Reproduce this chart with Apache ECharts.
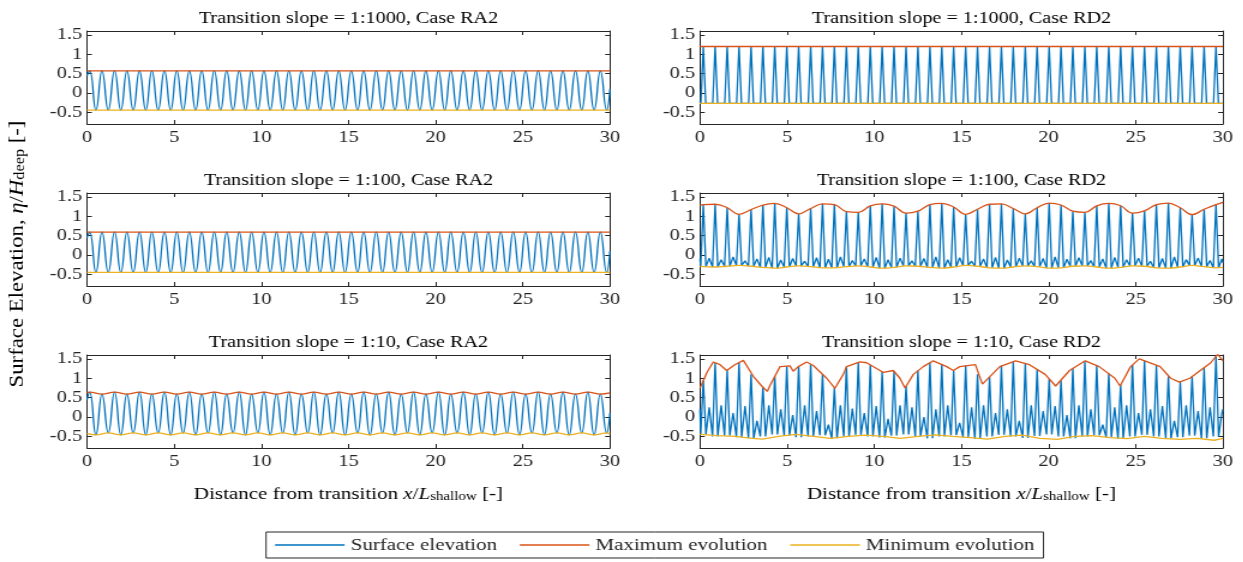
<!DOCTYPE html>
<html>
<head>
<meta charset="utf-8">
<title>Surface elevation along the transition</title>
<script src="https://cdn.jsdelivr.net/npm/echarts@6.0.0/dist/echarts.min.js"></script>
<style>
  html, body { margin: 0; padding: 0; background: #fff; overflow: hidden; }
  /* the source figure is stretched sideways, so draw narrow and stretch it */
  #chart { width: 1036px; height: 562px; transform: scaleX(1.2); transform-origin: 0 0; }
</style>
</head>
<body>
<div id="chart"></div>
<script>
// ---- data (x in x/L_shallow, y in eta/H_deep) ----
const edgeX = [0, 30]
const yTicks = [-0.5, 0, 0.5, 1, 1.5]

// RA2 cases: crest and trough positions
const raCrestX = [0.15, 0.86, 1.58, 2.29, 3.01, 3.72, 4.44, 5.15, 5.87, 6.58, 7.30, 8.01, 8.73, 9.44, 10.15, 10.87, 11.58, 12.30, 13.01, 13.73, 14.44,
  15.16, 15.87, 16.59, 17.30, 18.02, 18.73, 19.44, 20.16, 20.87, 21.59, 22.30, 23.02, 23.73, 24.45, 25.16, 25.88, 26.59, 27.30, 28.02, 28.73, 29.45]
const raTroughX = [0.51, 1.22, 1.94, 2.65, 3.37, 4.08, 4.80, 5.51, 6.23, 6.94, 7.66, 8.37, 9.09, 9.80, 10.51, 11.23, 11.94, 12.66, 13.37, 14.09, 14.80,
  15.52, 16.23, 16.95, 17.66, 18.38, 19.09, 19.80, 20.52, 21.23, 21.95, 22.66, 23.38, 24.09, 24.81, 25.52, 26.24, 26.95, 27.66, 28.38, 29.09, 29.81]

const ra1000Crest = [0.57, 0.57, 0.57, 0.57, 0.57, 0.57, 0.57, 0.57, 0.57, 0.57, 0.57, 0.57, 0.57, 0.57, 0.57, 0.57, 0.57, 0.57, 0.57, 0.57, 0.57,
  0.57, 0.57, 0.57, 0.57, 0.57, 0.57, 0.57, 0.57, 0.57, 0.57, 0.57, 0.57, 0.57, 0.57, 0.57, 0.57, 0.57, 0.57, 0.57, 0.57, 0.57]
const ra1000Trough = [-0.44, -0.44, -0.44, -0.44, -0.44, -0.44, -0.44, -0.44, -0.44, -0.44, -0.44, -0.44, -0.44, -0.44, -0.44, -0.44, -0.44, -0.44, -0.44, -0.44, -0.44,
  -0.44, -0.44, -0.44, -0.44, -0.44, -0.44, -0.44, -0.44, -0.44, -0.44, -0.44, -0.44, -0.44, -0.44, -0.44, -0.44, -0.44, -0.44, -0.44, -0.44, -0.44]
const ra1000Ends = [0.45, 0.1]
const ra1000Max = [0.57, 0.57]
const ra1000Min = [-0.44, -0.44]

const ra100Crest = [0.59, 0.59, 0.59, 0.59, 0.59, 0.59, 0.59, 0.59, 0.59, 0.59, 0.59, 0.59, 0.59, 0.59, 0.59, 0.59, 0.59, 0.59, 0.59, 0.59, 0.59,
  0.59, 0.59, 0.59, 0.59, 0.59, 0.59, 0.59, 0.59, 0.59, 0.59, 0.59, 0.59, 0.59, 0.59, 0.59, 0.59, 0.59, 0.59, 0.59, 0.59, 0.59]
const ra100Trough = [-0.45, -0.45, -0.45, -0.45, -0.45, -0.45, -0.45, -0.45, -0.45, -0.45, -0.45, -0.45, -0.45, -0.45, -0.45, -0.45, -0.45, -0.45, -0.45, -0.45, -0.45,
  -0.45, -0.45, -0.45, -0.45, -0.45, -0.45, -0.45, -0.45, -0.45, -0.45, -0.45, -0.45, -0.45, -0.45, -0.45, -0.45, -0.45, -0.45, -0.45, -0.45, -0.45]
const ra100Ends = [0.45, 0.1]
const ra100Max = [0.59, 0.59]
const ra100Min = [-0.45, -0.45]

const ra10Crest = [0.64, 0.59, 0.64, 0.59, 0.64, 0.59, 0.64, 0.59, 0.64, 0.59, 0.64, 0.59, 0.64, 0.59, 0.64, 0.59, 0.64, 0.59, 0.64, 0.59, 0.64,
  0.59, 0.64, 0.59, 0.64, 0.59, 0.64, 0.59, 0.64, 0.59, 0.64, 0.59, 0.64, 0.59, 0.64, 0.59, 0.64, 0.59, 0.64, 0.59, 0.64, 0.59]
const ra10Trough = [-0.46, -0.41, -0.46, -0.41, -0.46, -0.41, -0.46, -0.41, -0.46, -0.41, -0.46, -0.41, -0.46, -0.41, -0.46, -0.41, -0.46, -0.41, -0.46, -0.41, -0.46,
  -0.41, -0.46, -0.41, -0.46, -0.41, -0.46, -0.41, -0.46, -0.41, -0.46, -0.41, -0.46, -0.41, -0.46, -0.41, -0.46, -0.41, -0.46, -0.41, -0.46, -0.41]
const ra10Ends = [0.45, 0.1]
const ra10MaxEnds = [0.62, 0.62]
const ra10MinEnds = [-0.43, -0.44]

// RD2 cases: crest positions (sharp crests, flat troughs)
const rdCrestX = [0.19, 0.87, 1.56, 2.24, 2.93, 3.61, 4.29, 4.98, 5.66, 6.35, 7.03, 7.71, 8.40, 9.08, 9.77, 10.45, 11.13, 11.82, 12.50, 13.19, 13.87, 14.55,
  15.24, 15.92, 16.61, 17.29, 17.97, 18.66, 19.34, 20.03, 20.71, 21.39, 22.08, 22.76, 23.45, 24.13, 24.81, 25.50, 26.18, 26.87, 27.55, 28.23, 28.92, 29.60]
const rdNextCrest = 30.28

const rd1000Crest = [1.2, 1.2, 1.2, 1.2, 1.2, 1.2, 1.2, 1.2, 1.2, 1.2, 1.2, 1.2, 1.2, 1.2, 1.2, 1.2, 1.2, 1.2, 1.2, 1.2, 1.2, 1.2,
  1.2, 1.2, 1.2, 1.2, 1.2, 1.2, 1.2, 1.2, 1.2, 1.2, 1.2, 1.2, 1.2, 1.2, 1.2, 1.2, 1.2, 1.2, 1.2, 1.2, 1.2, 1.2]
const rd1000Trough = [-0.27, -0.27, -0.27, -0.27, -0.27, -0.27, -0.27, -0.27, -0.27, -0.27, -0.27, -0.27, -0.27, -0.27, -0.27, -0.27, -0.27, -0.27, -0.27, -0.27, -0.27, -0.27,
  -0.27, -0.27, -0.27, -0.27, -0.27, -0.27, -0.27, -0.27, -0.27, -0.27, -0.27, -0.27, -0.27, -0.27, -0.27, -0.27, -0.27, -0.27, -0.27, -0.27, -0.27, -0.27]
const rd1000Ends = [-0.2, -0.27]
const rd1000Max = [1.2, 1.2]
const rd1000Min = [-0.27, -0.27]

const rd100Crest = [1.30, 1.31, 1.22, 1.05, 1.17, 1.29, 1.33, 1.22, 1.06, 1.20, 1.32, 1.30, 1.12, 1.10, 1.27, 1.32, 1.26, 1.08, 1.13, 1.30, 1.33, 1.24,
  1.05, 1.18, 1.31, 1.32, 1.20, 1.06, 1.22, 1.34, 1.29, 1.13, 1.10, 1.27, 1.33, 1.27, 1.08, 1.14, 1.30, 1.34, 1.22, 1.04, 1.18, 1.30]
const rd100Trough = [-0.30, -0.31, -0.29, -0.27, -0.29, -0.32, -0.34, -0.31, -0.28, -0.30, -0.33, -0.33, -0.30, -0.28, -0.31, -0.34, -0.32, -0.28, -0.29, -0.32, -0.34, -0.31,
  -0.27, -0.29, -0.33, -0.34, -0.31, -0.28, -0.30, -0.34, -0.33, -0.29, -0.28, -0.31, -0.34, -0.32, -0.28, -0.29, -0.33, -0.34, -0.31, -0.27, -0.30, -0.33]
const rd100Bump = [-0.08, -0.12, -0.05, -0.15, -0.10, -0.06, -0.13, -0.09, -0.16, -0.07, -0.11, -0.05, -0.14, -0.10, -0.06, -0.12, -0.08, -0.15, -0.09, -0.05, -0.12, -0.07,
  -0.16, -0.10, -0.06, -0.13, -0.08, -0.15, -0.09, -0.05, -0.11, -0.07, -0.14, -0.10, -0.06, -0.12, -0.08, -0.16, -0.09, -0.05, -0.12, -0.08, -0.14, -0.10]
const rd100Ends = [-0.1, -0.2]
const rd100MaxEnds = [1.28, 1.36]
const rd100MinEnds = [-0.3, -0.32]

const rd10Crest = [0.95, 1.40, 1.21, 1.40, 1.10, 0.77, 1.05, 1.31, 1.30, 1.36, 1.10, 0.75, 1.30, 1.40, 1.34, 1.17, 1.18, 0.80, 1.20, 1.40, 1.36, 1.20,
  1.33, 1.10, 1.03, 1.32, 1.43, 1.38, 1.22, 0.98, 0.95, 1.25, 1.44, 1.33, 1.13, 0.83, 1.35, 1.45, 1.33, 1.05, 0.90, 1.05, 1.27, 1.57]
const rd10Trough = [-0.45, -0.50, -0.48, -0.52, -0.55, -0.50, -0.45, -0.48, -0.52, -0.50, -0.47, -0.55, -0.50, -0.46, -0.50, -0.53, -0.48, -0.45, -0.50, -0.55, -0.50, -0.47,
  -0.52, -0.56, -0.50, -0.46, -0.50, -0.54, -0.49, -0.45, -0.50, -0.55, -0.50, -0.47, -0.52, -0.56, -0.50, -0.46, -0.50, -0.55, -0.52, -0.48, -0.55, -0.50]
const rd10Bump = [0.25, 0.30, 0.10, 0.28, -0.10, 0.30, 0.20, 0.05, 0.30, 0.15, -0.20, 0.30, 0.22, 0.10, 0.28, -0.05, 0.30, 0.25, 0.00, 0.20, 0.30, -0.15,
  0.25, 0.30, 0.10, 0.20, -0.10, 0.30, 0.15, 0.28, 0.05, 0.30, 0.20, -0.20, 0.25, 0.30, 0.10, 0.20, 0.28, -0.10, 0.30, 0.15, 0.25, 0.10]
const rd10Ends = [0.2, 0.2]
const rd10MaxX = [0, 0.4, 0.76, 1.15, 1.53, 2.0, 2.49, 3.06, 3.54, 3.86, 4.0, 4.59, 5.16, 5.35, 5.64, 6.12, 6.5, 7.27, 7.74, 8.22, 8.41, 9.18, 9.56,
  10.13, 10.52, 11.09, 11.47, 11.76, 12.24, 12.81, 13.38, 14.15, 14.53, 14.9, 15.8, 16.2, 17.2, 18.1, 18.9, 19.8, 20.4, 21.2,
  22.1, 22.9, 23.8, 24.1, 24.7, 25.2, 26.4, 27.0, 27.5, 28.1, 28.7, 29.3, 29.7, 30]
const rd10MaxY = [0.75, 1.15, 1.42, 1.35, 1.2, 1.35, 1.46, 1.05, 0.8, 0.66, 0.8, 1.3, 1.32, 1.18, 1.3, 1.42, 1.33, 1.0, 0.74, 1.1, 1.3, 1.42, 1.4,
  1.25, 1.15, 1.2, 1.0, 0.75, 1.1, 1.3, 1.45, 1.3, 1.2, 1.3, 1.35, 0.85, 1.3, 1.45, 1.35, 1.1, 0.8, 1.2,
  1.45, 1.3, 1.0, 0.8, 1.3, 1.5, 1.3, 1.0, 0.9, 1.0, 1.2, 1.4, 1.62, 1.45]
const rd10MinX = [0, 1, 2, 3, 3.6, 4.5, 5.5, 6.5, 7.5, 8.5, 9.5, 10.5, 11.5, 12.5, 13.5, 14.5, 15.5, 16.5, 17.5, 18.5, 19.5, 20.5, 21.5, 22.5,
  23.5, 24.5, 25.5, 26.5, 27.5, 28.5, 29.5, 30]
const rd10MinY = [-0.45, -0.48, -0.5, -0.55, -0.57, -0.5, -0.45, -0.5, -0.55, -0.5, -0.47, -0.5, -0.55, -0.5, -0.46, -0.5, -0.53, -0.57, -0.5, -0.47,
  -0.55, -0.58, -0.5, -0.48, -0.53, -0.56, -0.5, -0.55, -0.58, -0.55, -0.6, -0.55]

const slopes = ['1:1000', '1:1000', '1:100', '1:100', '1:10', '1:10']
const cases = ['RA2', 'RD2', 'RA2', 'RD2', 'RA2', 'RD2']
const names = ['Surface elevation', 'Maximum evolution', 'Minimum evolution']

// ---- helpers ----
const FONT = 'Liberation Serif'
const INK = '#262626'
const colors = ['#0072BD', '#D95319', '#EDB120']

const pairs = (xs, ys) => xs.map((x, i) => [x, ys[i]])
const withEnds = (ends, pts) => [[0, ends[0]], ...pts, [30, ends[1]]]

// smooth wave through crests and troughs
function waveRA(crest, trough, ends) {
  const pts = []
  raCrestX.forEach((x, i) => {
    pts.push([x, crest[i]], [raTroughX[i], trough[i]])
  })
  return withEnds(ends, pts)
}

// sharp crests with a small hump between them
function waveRD(crest, trough, bump, ends, w) {
  const pts = []
  rdCrestX.forEach((x, i) => {
    const next = i + 1 < rdCrestX.length ? rdCrestX[i + 1] : rdNextCrest
    pts.push([x - w, trough[i]], [x, crest[i]], [x + w, trough[i]], [(x + next) / 2, bump[i]])
  })
  return withEnds(ends, pts)
}

const panels = [
  {eta: waveRA(ra1000Crest, ra1000Trough, ra1000Ends), max: pairs(edgeX, ra1000Max), min: pairs(edgeX, ra1000Min), smooth: 0.5},
  {eta: waveRD(rd1000Crest, rd1000Trough, rd1000Trough, rd1000Ends, 0.14), max: pairs(edgeX, rd1000Max), min: pairs(edgeX, rd1000Min), smooth: false},
  {eta: waveRA(ra100Crest, ra100Trough, ra100Ends), max: pairs(edgeX, ra100Max), min: pairs(edgeX, ra100Min), smooth: 0.5},
  {eta: waveRD(rd100Crest, rd100Trough, rd100Bump, rd100Ends, 0.15),
    max: withEnds(rd100MaxEnds, pairs(rdCrestX, rd100Crest)), min: withEnds(rd100MinEnds, pairs(rdCrestX, rd100Trough)), smooth: false},
  {eta: waveRA(ra10Crest, ra10Trough, ra10Ends),
    max: withEnds(ra10MaxEnds, pairs(raCrestX, ra10Crest)), min: withEnds(ra10MinEnds, pairs(raTroughX, ra10Trough)), smooth: 0.5},
  {eta: waveRD(rd10Crest, rd10Trough, rd10Bump, rd10Ends, 0.15), max: pairs(rd10MaxX, rd10MaxY), min: pairs(rd10MinX, rd10MinY), smooth: false}
]

// ---- layout (in the narrow, un-stretched frame) ----
const gridLeft = [72.5, 583.3]
const gridTop = [31, 193, 355]
const gridW = 435.8
const gridH = 93

const grid = [], xAxis = [], yAxis = [], series = [], graphic = []
const tickStyle = {inside: true, length: 4, lineStyle: {color: INK, width: 1}}
const lineStyle = {show: true, onZero: false, lineStyle: {color: INK, width: 1}}

const rich = {
  n: {fontFamily: FONT, fontSize: 17.5, lineHeight: 18, verticalAlign: 'top', color: INK},
  i: {fontFamily: FONT, fontSize: 17.5, fontStyle: 'italic', lineHeight: 18, verticalAlign: 'top', color: INK},
  s: {fontFamily: FONT, fontSize: 12.5, lineHeight: 12, padding: [10, 0, 0, 0], verticalAlign: 'bottom', color: INK},
  t: {fontFamily: FONT, fontSize: 16.8, lineHeight: 18, verticalAlign: 'top', color: INK}
}

panels.forEach((p, i) => {
  const col = i % 2, row = Math.floor(i / 2)
  grid.push({left: gridLeft[col], top: gridTop[row], width: gridW, height: gridH, outerBoundsMode: 'none'})

  const xBase = {gridIndex: i, type: 'value', min: 0, max: 30, interval: 5, axisLine: lineStyle, axisTick: tickStyle, splitLine: {show: false}}
  xAxis.push({...xBase, position: 'bottom', axisLabel: {fontFamily: FONT, fontSize: 17, color: INK, margin: 5}})
  xAxis.push({...xBase, position: 'top', axisLabel: {show: false}})

  const yBase = {gridIndex: i, type: 'value', min: -0.8, max: 1.6, axisLine: lineStyle, splitLine: {show: false},
    axisTick: {...tickStyle, customValues: yTicks}}
  yAxis.push({...yBase, position: 'left', axisLabel: {customValues: yTicks, fontFamily: FONT, fontSize: 17, color: INK, margin: 4}})
  yAxis.push({...yBase, position: 'right', axisLabel: {show: false}})

  const lines = [p.eta, p.max, p.min]
  lines.forEach((data, k) => {
    series.push({
      type: 'line', name: names[k], data,
      xAxisIndex: 2 * i, yAxisIndex: 2 * i,
      smooth: k === 0 ? p.smooth : (p.max.length > 2 && i !== 5 ? 0.4 : false),
      symbol: 'none', animation: false,
      lineStyle: {color: colors[k], width: 1.3},
      itemStyle: {color: colors[k]}
    })
  })

  graphic.push({
    type: 'text', x: gridLeft[col] + gridW / 2, y: gridTop[row] - 12,
    style: {text: '{t|Transition slope = ' + slopes[i] + ', Case ' + cases[i] + '}', rich, align: 'center', verticalAlign: 'middle'}
  })
})

gridLeft.forEach(left => {
  graphic.push({
    type: 'text', x: left + gridW / 2, y: 494,
    style: {text: '{n|Distance from transition }{i|x}{n|/}{i|L}{s|shallow}{n| [-]}', rich, align: 'center', verticalAlign: 'middle'}
  })
})

graphic.push({
  type: 'text', x: 14, y: 254, rotation: Math.PI / 2, scaleX: 1.3,
  style: {text: '{n|Surface Elevation, }{i|η}{n|/}{i|H}{s|deep}{n| [-]}', rich, align: 'center', verticalAlign: 'middle'}
})

const chart = echarts.init(document.getElementById('chart'))
chart.setOption({
  animation: false,
  backgroundColor: '#fff',
  grid, xAxis, yAxis, series, graphic,
  legend: {
    data: names, left: 221.7, top: 532, icon: 'rect',
    itemWidth: 58, itemHeight: 1.5, itemGap: 19, padding: [4, 7.5],
    borderColor: INK, borderWidth: 1, selectedMode: false,
    textStyle: {fontFamily: FONT, fontSize: 17.5, color: INK}
  }
})
</script>
</body>
</html>
